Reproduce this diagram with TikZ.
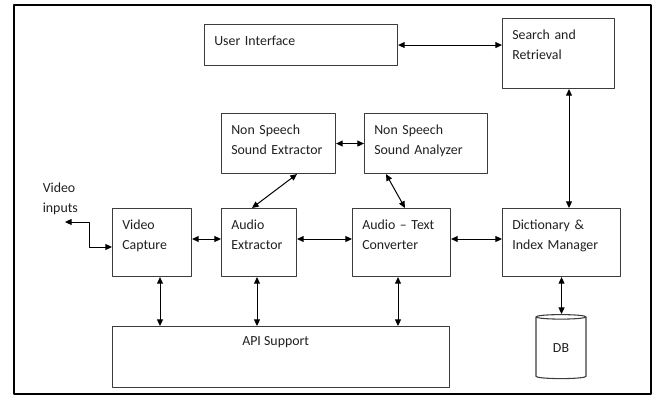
\documentclass[tikz,border=0pt]{standalone}
\usepackage{fontspec}
\setmainfont{Carlito}
\usetikzlibrary{arrows.meta,shapes.geometric}
\definecolor{boxcol}{HTML}{3C3C3C}
\definecolor{txtcol}{HTML}{202020}

\begin{document}
\begin{tikzpicture}[x=0.75pt,y=-0.75pt,line cap=round,line join=round,
  blk/.style 2 args={draw=boxcol,line width=0.8pt,rectangle,inner sep=0pt,anchor=north west,
    minimum width=#1*0.75pt,minimum height=#2*0.75pt},
  txt/.style={anchor=base west,inner sep=0pt,text width=3.5cm,
    align=left,text=txtcol,font=\fontsize{10.4}{15}\selectfont},
  boxtxt/.style={txt,xshift=7.5pt,yshift=-16pt},
  link/.style={line width=0.75pt,{Triangle[length=5pt,width=4.5pt]}-{Triangle[length=5pt,width=4.5pt]}}]

  \useasboundingbox (0,0) rectangle (656,396);
  \draw[line width=1.8pt] (14,5) rectangle (651,394);

  % blocks
  \node[blk={193}{41}]  (ui)   at (204,24)  {};
  \node[blk={112}{70}]  (sr)   at (502,18)  {};
  \node[blk={114}{60}]  (nse)  at (221,113) {};
  \node[blk={123}{60}]  (nsa)  at (364,113) {};
  \node[blk={79}{68}]   (vc)   at (112,208) {};
  \node[blk={75}{68}]   (ae)   at (221,208) {};
  \node[blk={98}{68}]   (atc)  at (352,208) {};
  \node[blk={118}{68}]  (dict) at (502,208) {};
  \node[blk={337}{61}]  (api)  at (112,326) {};
  \node[cylinder,shape border rotate=90,aspect=0.28,draw=boxcol,line width=0.8pt,
        minimum width=50*0.75pt,minimum height=64*0.75pt,inner sep=0pt,
        text=txtcol,font=\fontsize{10.4}{15}\selectfont] (db) at (561,348) {DB};

  % texts
  \node[boxtxt] (ui-t)   at (ui.north west)   {User Interface};
  \node[boxtxt] (sr-t)   at (sr.north west)   {Search and\\Retrieval};
  \node[boxtxt] (nse-t)  at (nse.north west)  {Non Speech\\Sound Extractor};
  \node[boxtxt] (nsa-t)  at (nsa.north west)  {Non Speech\\Sound Analyzer};
  \node[boxtxt] (vc-t)   at (vc.north west)   {Video\\Capture};
  \node[boxtxt] (ae-t)   at (ae.north west)   {Audio\\Extractor};
  \node[boxtxt] (atc-t)  at (atc.north west)  {Audio -- Text\\Converter};
  \node[boxtxt] (dict-t) at (dict.north west) {Dictionary \&\\Index Manager};
  \node[anchor=base,inner sep=0pt,text=txtcol,font=\fontsize{10.4}{15}\selectfont,
        xshift=-4pt,yshift=-14.6pt] (api-t) at (api.north) {API Support};
  \node[txt] (vin) at (42.5,192.5) {Video\\inputs};

  % connectors
  \draw[link] (ui.east) -- (ui.east -| sr.west);
  \draw[link] (sr.south -| 569,0) -- (dict.north -| 569,0);
  \draw[link] (nse.east) -- (nse.east -| nsa.west);
  \draw[link] (nse.south -| 297,0) -- (ae.north -| 252,0);
  \draw[link] (nsa.south -| 386,0) -- (atc.north -| 405,0);
  \draw[link] (vc.east |- 0,239) -- (ae.west |- 0,239);
  \draw[link] (ae.east |- 0,239) -- (atc.west |- 0,239);
  \draw[link] (atc.east |- 0,239) -- (dict.west |- 0,239);
  \draw[link] (vc.south -| 160,0) -- (api.north -| 160,0);
  \draw[link] (ae.south -| 257,0) -- (api.north -| 257,0);
  \draw[link] (atc.south -| 398,0) -- (api.north -| 398,0);
  \draw[link] (dict.south) -- (dict.south |- db.north);
  \coordinate (vin-end) at (65,222);
  \draw[link] (vin-end) -- ++(24,0) |- (vc.west |- 0,247);

\end{tikzpicture}
\end{document}
